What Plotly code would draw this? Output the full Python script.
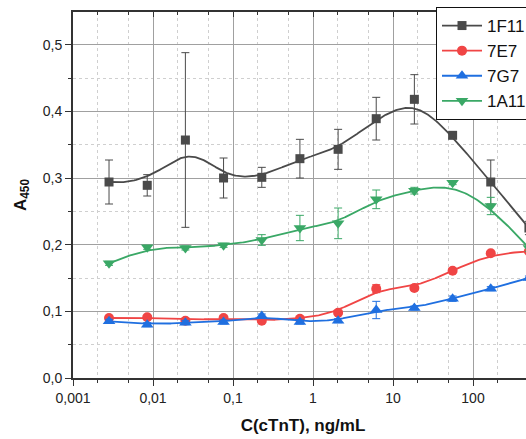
import numpy as np
import plotly.graph_objects as go

conc = [0.00282, 0.00847, 0.0254, 0.0762, 0.229, 0.686, 2.06, 6.17, 18.5, 55.6, 166.7, 500]

y_1F11 = [0.294, 0.289, 0.357, 0.300, 0.301, 0.329, 0.343, 0.389, 0.418, 0.364, 0.294, 0.225]
e_1F11 = [0.033, 0.016, 0.131, 0.030, 0.015, 0.029, 0.030, 0.032, 0.037, 0.004, 0.033, 0.010]

y_7E7 = [0.090, 0.091, 0.086, 0.090, 0.086, 0.089, 0.098, 0.134, 0.135, 0.161, 0.187, 0.190]
e_7E7 = [0.003, 0.003, 0.003, 0.003, 0.003, 0.003, 0.003, 0.006, 0.003, 0.003, 0.003, 0.003]

y_7G7 = [0.085, 0.080, 0.083, 0.084, 0.093, 0.084, 0.086, 0.102, 0.105, 0.119, 0.134, 0.150]
e_7G7 = [0.003, 0.003, 0.003, 0.003, 0.003, 0.003, 0.003, 0.013, 0.003, 0.004, 0.003, 0.003]

y_1A11 = [0.172, 0.196, 0.195, 0.199, 0.207, 0.225, 0.232, 0.268, 0.281, 0.293, 0.258, 0.195]
e_1A11 = [0.003, 0.003, 0.003, 0.003, 0.008, 0.019, 0.023, 0.014, 0.005, 0.003, 0.013, 0.005]

series_names = ["1F11", "7E7", "7G7", "1A11"]
series_y = [y_1F11, y_7E7, y_7G7, y_1A11]
series_e = [e_1F11, e_7E7, e_7G7, e_1A11]
colors = ["#4a4a4a", "#f04545", "#1f6fe0", "#3aa866"]
symbols = ["square", "circle", "triangle-up", "triangle-down"]
msizes = [9, 10, 11, 11]

x_tickvals = [0.001, 0.01, 0.1, 1, 10, 100]
x_ticktext = ["0,001", "0,01", "0,1", "1", "10", "100"]

FONT = "Arial, Liberation Sans, sans-serif"


def bspline(px, py, samples=400, k=3):
    """Clamped uniform cubic B-spline using the data points as control points."""
    P = np.column_stack([px, py])
    n = len(P)
    inner = np.arange(1, n - k)
    knots = np.concatenate([np.zeros(k + 1), inner, np.full(k + 1, n - k)]).astype(float)
    ts = np.linspace(0, n - k, samples)
    out = []
    for t in ts:
        if t >= knots[-1]:
            out.append(P[-1]); continue
        j = np.searchsorted(knots, t, side="right") - 1
        d = [P[i].copy() for i in range(j - k, j + 1)]
        for r in range(1, k + 1):
            for i in range(k, r - 1, -1):
                idx = j - k + i
                a = (t - knots[idx]) / (knots[idx + k + 1 - r] - knots[idx])
                d[i] = (1 - a) * d[i - 1] + a * d[i]
        out.append(d[k])
    out = np.array(out)
    return out[:, 0], out[:, 1]


logc = np.log10(conc)

fig = go.Figure()
for name, ys, es, c, s, ms in zip(series_names, series_y, series_e, colors, symbols, msizes):
    bx, by = bspline(logc, np.array(ys))
    fig.add_trace(go.Scatter(
        x=10 ** bx, y=by, mode="lines", line=dict(color=c, width=1.8),
        showlegend=False, hoverinfo="skip", legendgroup=name,
    ))
    fig.add_trace(go.Scatter(
        x=conc, y=ys, mode="markers", showlegend=False, legendgroup=name, name=name,
        marker=dict(symbol=s, size=ms, color=c),
        error_y=dict(type="data", array=es, color=c, thickness=1, width=4),
    ))
    fig.add_trace(go.Scatter(
        x=[None], y=[None], mode="lines+markers", name=name, legendgroup=name,
        line=dict(color=c, width=1.8), marker=dict(symbol=s, size=ms, color=c),
    ))

# invisible trace to carry the top mirror axis
fig.add_trace(go.Scatter(x=conc, y=y_1F11, xaxis="x2", mode="markers",
                         marker=dict(opacity=0), showlegend=False, hoverinfo="skip"))

W = 533
L = 73
PH = 439 - 12 - 61
xr = [-3, -3 + (W - L) / 80.0]
fig.update_layout(
    width=W, height=439,
    margin=dict(l=L, r=0, t=12, b=61),
    paper_bgcolor="white", plot_bgcolor="white",
    separators=", ",
    font=dict(family=FONT, size=14, color="#222"),
    showlegend=True,
    legend=dict(x=(436 - L) / (W - L), y=1 + 5 / PH, xanchor="left", yanchor="top",
                bgcolor="white", bordercolor="#111", borderwidth=1,
                itemwidth=40,
                font=dict(size=17, color="#111"), tracegroupgap=0),
    xaxis=dict(
        type="log", range=xr,
        tickvals=x_tickvals, ticktext=x_ticktext,
        ticks="outside", ticklen=6, tickwidth=1, tickcolor="#333",
        showline=True, linecolor="#333", linewidth=2,
        showgrid=True, gridcolor="#a0a0a0", gridwidth=1,
        minor=dict(ticks="outside", ticklen=3, tickcolor="#333",
                   showgrid=True, gridcolor="#cfcfcf", griddash="dot"),
        title=dict(text="<b>C(cTnT), ng/mL</b>", font=dict(size=17, color="#111"), standoff=14),
        zeroline=False,
    ),
    xaxis2=dict(
        type="log", range=xr, overlaying="x", side="top", anchor="y",
        tickvals=x_tickvals, showticklabels=False,
        ticks="inside", ticklen=5, tickcolor="#333",
        minor=dict(ticks="inside", ticklen=3, tickcolor="#333", showgrid=False),
        showline=True, linecolor="#333", linewidth=2, showgrid=False,
    ),
    yaxis=dict(
        range=[0, 0.549], dtick=0.1, tickformat=".1f",
        ticks="outside", ticklen=6, tickcolor="#333",
        showline=True, linecolor="#333", linewidth=2,
        showgrid=True, gridcolor="#a0a0a0", gridwidth=1,
        minor=dict(dtick=0.05, ticks="outside", ticklen=3, tickcolor="#333",
                   showgrid=True, gridcolor="#cfcfcf", griddash="dot"),
        title=dict(text="<b>A<sub>450</sub></b>", font=dict(size=17, color="#111"), standoff=12),
        zeroline=False,
    ),
)

fig.write_html("out.html", config={"displayModeBar": False},
               post_script="document.body.style.margin='0';document.body.style.overflow='hidden';")
